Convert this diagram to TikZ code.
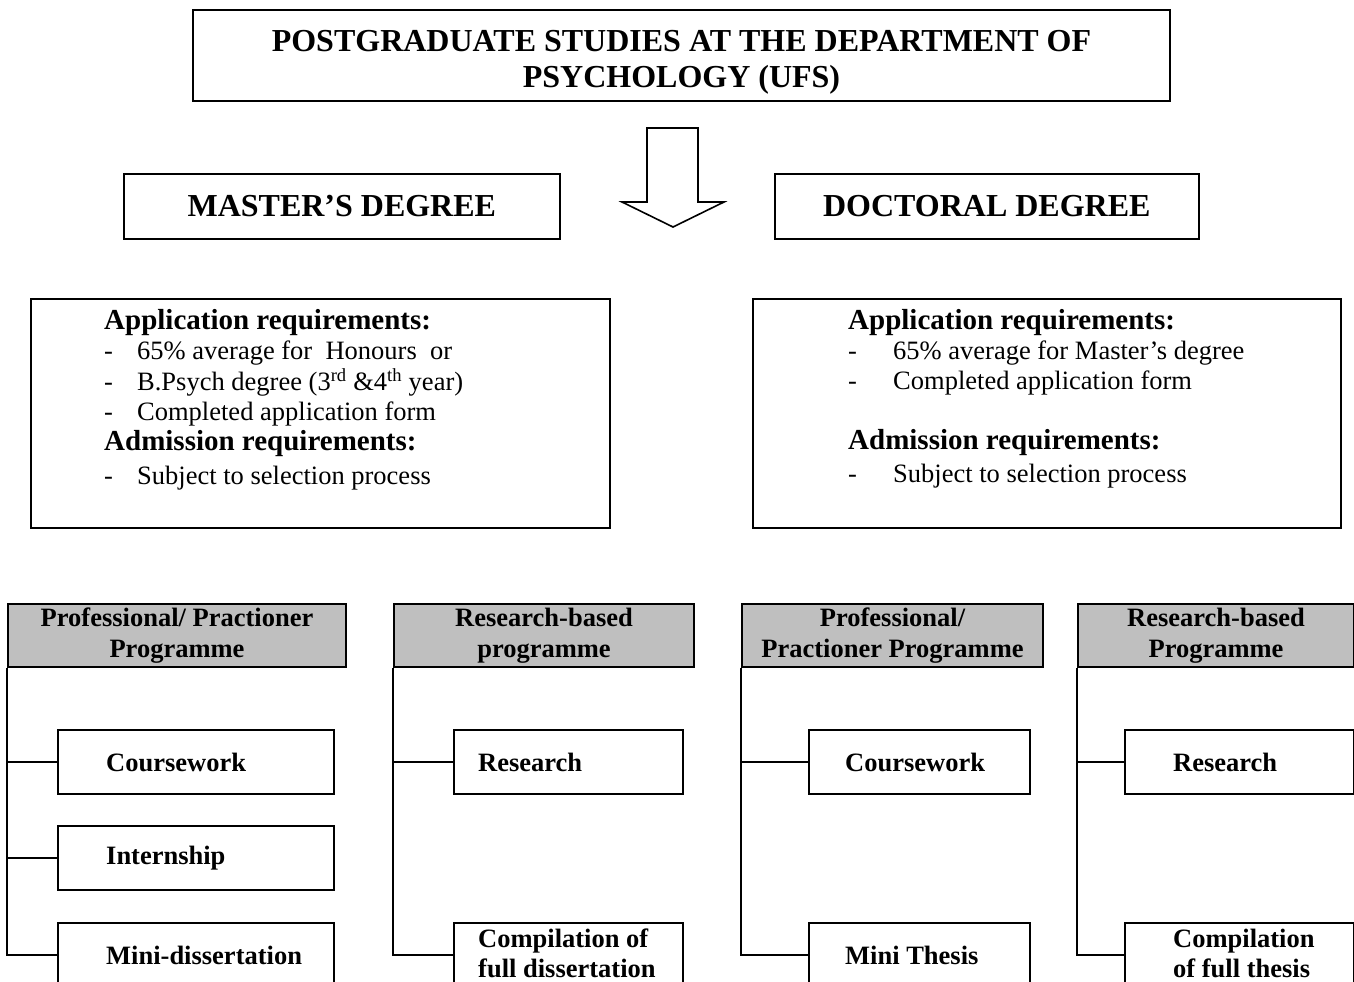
\documentclass[tikz,border=0pt]{standalone}
\usepackage{fontspec}
\setmainfont{Liberation Serif}
\usetikzlibrary{positioning}

\begin{document}
\begin{tikzpicture}[x=1pt,y=-1pt,
  box/.style={draw,line width=2pt,rectangle,inner sep=0pt,anchor=north west},
  degree/.style={box,line width=1.6pt,minimum height=65pt,font=\bfseries\fontsize{32}{36}\selectfont},
  head/.style={box,fill=gray!50,minimum height=63pt,align=center,font=\bfseries\fontsize{26.5}{31}\selectfont},
  item/.style={box,minimum height=64pt},
  itemtext/.style={inner sep=0pt,align=left,font=\bfseries\fontsize{26.5}{30}\selectfont},
  reqtext/.style={inner sep=0pt,anchor=north west,font=\fontsize{26.5}{30}\selectfont},
  link/.style={line width=2pt}]
\useasboundingbox (0,0) rectangle (1354,982);
\clip (0,0) rectangle (1354,982);

% title and degrees
\node[box,minimum width=977pt,minimum height=91pt] (title) at (192,9) {};
\node[inner sep=0pt,align=center,font=\bfseries\fontsize{32}{36}\selectfont,
  below=21pt of title.north] (titletext)
  {POSTGRADUATE STUDIES AT THE DEPARTMENT OF\\PSYCHOLOGY (UFS)};
\draw[line width=1.6pt] (647,128) -- (698,128) -- (698,202) -- (724,202)
  -- (673,227) -- (622,202) -- (647,202) -- cycle;
\node[degree,minimum width=436pt] (master) at (123,173) {MASTER'S DEGREE};
\node[degree,minimum width=424pt] (doctor) at (774,173) {DOCTORAL DEGREE};

% requirements
\node[box,minimum width=579pt,minimum height=229pt] (reqm) at (30,298) {};
\node[reqtext,below right=10pt and 74pt of reqm.north west] (reqmtext) {%
\begin{tabular}{@{}p{33pt}@{}l@{}}
\multicolumn{2}{@{}l@{}}{\bfseries\fontsize{29}{30}\selectfont Application requirements:}\\
- & 65\% average for\ \ Honours\ \ or\\
- & B.Psych degree (3\textsuperscript{rd} \&4\textsuperscript{th} year)\\
- & Completed application form\\
\multicolumn{2}{@{}l@{}}{\bfseries\fontsize{29}{30}\selectfont Admission requirements:}\\[4pt]
- & Subject to selection process
\end{tabular}};

\node[box,minimum width=588pt,minimum height=229pt] (reqd) at (752,298) {};
\node[reqtext,below right=10pt and 96pt of reqd.north west] (reqdtext) {%
\begin{tabular}{@{}p{45pt}@{}l@{}}
\multicolumn{2}{@{}l@{}}{\bfseries\fontsize{29}{30}\selectfont Application requirements:}\\
- & 65\% average for Master's degree\\
- & Completed application form\\
 & \\
\multicolumn{2}{@{}l@{}}{\bfseries\fontsize{29}{30}\selectfont Admission requirements:}\\[3pt]
- & Subject to selection process
\end{tabular}};

% master: professional
\node[head,minimum width=338pt] (pp1) at (7,603) {Professional/ Practioner\\Programme};
\node[item,minimum width=276pt] (cw1) at (57,729) {};
\node[item,minimum width=276pt] (int1) at (57,825) {};
\node[item,minimum width=276pt] (md1) at (57,922) {};
\node[itemtext,right=49pt of cw1.west] (cw1t) {Coursework};
\node[itemtext,right=49pt of int1.west] (int1t) {Internship};
\node[itemtext,right=49pt of md1.west] (md1t) {Mini-dissertation};
\draw[link] (pp1.south west) |- (md1.west);
\draw[link] (pp1.south west |- cw1.west) -- (cw1.west);
\draw[link] (pp1.south west |- int1.west) -- (int1.west);

% master: research
\node[head,minimum width=300pt] (rb1) at (393,603) {Research-based\\programme};
\node[item,minimum width=229pt] (res1) at (453,729) {};
\node[item,minimum width=229pt] (comp1) at (453,922) {};
\node[itemtext,right=25pt of res1.west] (res1t) {Research};
\node[itemtext,right=25pt of comp1.west,yshift=2pt] (comp1t) {Compilation of\\full dissertation};
\draw[link] (rb1.south west) |- (comp1.west);
\draw[link] (rb1.south west |- res1.west) -- (res1.west);

% doctoral: professional
\node[head,minimum width=301pt] (pp2) at (741,603) {Professional/\\Practioner Programme};
\node[item,minimum width=221pt] (cw2) at (808,729) {};
\node[item,minimum width=221pt] (mt2) at (808,922) {};
\node[itemtext,right=37pt of cw2.west] (cw2t) {Coursework};
\node[itemtext,right=37pt of mt2.west] (mt2t) {Mini Thesis};
\draw[link] (pp2.south west) |- (mt2.west);
\draw[link] (pp2.south west |- cw2.west) -- (cw2.west);

% doctoral: research
\node[head,minimum width=276pt] (rb2) at (1077,603) {Research-based\\Programme};
\node[item,minimum width=229pt] (res2) at (1124,729) {};
\node[item,minimum width=229pt] (comp2) at (1124,922) {};
\node[itemtext,right=49pt of res2.west] (res2t) {Research};
\node[itemtext,right=49pt of comp2.west,yshift=2pt] (comp2t) {Compilation\\of full thesis};
\draw[link] (rb2.south west) |- (comp2.west);
\draw[link] (rb2.south west |- res2.west) -- (res2.west);

\end{tikzpicture}
\end{document}
